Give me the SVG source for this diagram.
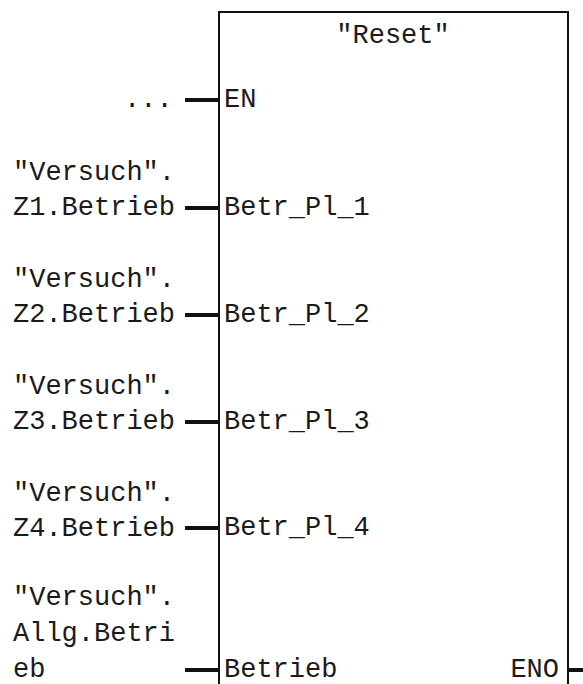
<svg xmlns="http://www.w3.org/2000/svg" width="583" height="684" viewBox="0 0 583 684">
  <style>
    .t { font-family: "Liberation Mono", "Courier New", monospace; font-size: 27px; fill: #1a1a1a; }
    .wire { stroke: #111; stroke-width: 4; fill: none; }
    .box { stroke: #111; stroke-width: 2; fill: #fff; }
  </style>
  <rect width="583" height="684" fill="#fff"/>

  <!-- function block body -->
  <g id="block-reset">
    <path class="box" d="M219,700 L219,12 L568,12 L568,700"/>
    <text class="t" x="393" y="43" text-anchor="middle">"Reset"</text>
    <text class="t" x="224" y="107">EN</text>
    <text class="t" x="224" y="215">Betr_Pl_1</text>
    <text class="t" x="224" y="322">Betr_Pl_2</text>
    <text class="t" x="224" y="429">Betr_Pl_3</text>
    <text class="t" x="224" y="535">Betr_Pl_4</text>
    <text class="t" x="224" y="677">Betrieb</text>
    <text class="t" x="559" y="677" text-anchor="end">ENO</text>
  </g>

  <!-- input operands -->
  <g id="in-en">
    <text class="t" x="124" y="107">...</text>
  </g>
  <g id="in-z1">
    <text class="t" x="13" y="180">"Versuch".</text>
    <text class="t" x="13" y="215">Z1.Betrieb</text>
  </g>
  <g id="in-z2">
    <text class="t" x="13" y="287">"Versuch".</text>
    <text class="t" x="13" y="322">Z2.Betrieb</text>
  </g>
  <g id="in-z3">
    <text class="t" x="13" y="394">"Versuch".</text>
    <text class="t" x="13" y="429">Z3.Betrieb</text>
  </g>
  <g id="in-z4">
    <text class="t" x="13" y="501">"Versuch".</text>
    <text class="t" x="13" y="536">Z4.Betrieb</text>
  </g>
  <g id="in-allg">
    <text class="t" x="13" y="605">"Versuch".</text>
    <text class="t" x="13" y="641">Allg.Betri</text>
    <text class="t" x="13" y="677">eb</text>
  </g>

  <!-- connection stubs -->
  <g id="connectors">
    <line class="wire" x1="185" y1="100" x2="219" y2="100"/>
    <line class="wire" x1="185" y1="208" x2="219" y2="208"/>
    <line class="wire" x1="185" y1="315" x2="219" y2="315"/>
    <line class="wire" x1="185" y1="422" x2="219" y2="422"/>
    <line class="wire" x1="185" y1="528" x2="219" y2="528"/>
    <line class="wire" x1="185" y1="670" x2="219" y2="670"/>
    <line class="wire" x1="568" y1="670" x2="583" y2="670"/>
  </g>
</svg>
